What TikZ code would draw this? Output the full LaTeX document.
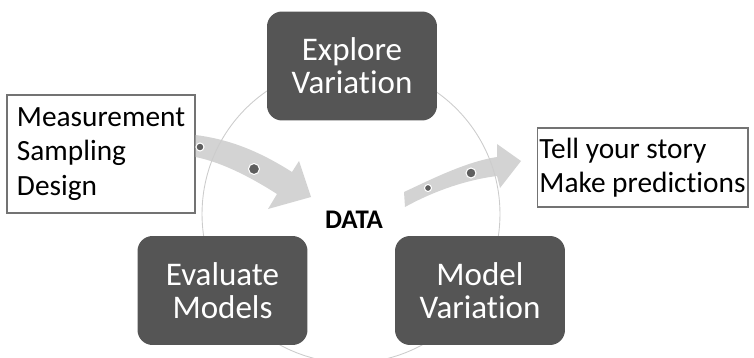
\documentclass[tikz,border=0pt]{standalone}
\usepackage{fontspec}
\setmainfont{Carlito}[Ligatures=NoCommon]
\usepackage{tikz}
\usetikzlibrary{positioning,calc}

\definecolor{boxgray}{HTML}{555555}
\definecolor{arrowgray}{HTML}{D3D3D3}
\definecolor{dotgray}{HTML}{5E5E5E}

\begin{document}
\begin{tikzpicture}[x=0.02cm,y=-0.02cm,
		stage/.style={rounded corners=0.3cm, fill=boxgray, text=white,
			minimum width=3.4cm, minimum height=2.18cm, align=center,
			font=\fontsize{18.8}{18.8}\selectfont},
		note/.style={draw=black!55, line width=0.6pt, align=left,
			font=\fontsize{16.7}{19.6}\selectfont},
		flow/.style={fill=arrowgray},
		bead/.style={fill=dotgray, draw=white, line width=0.6pt},
	]
		\useasboundingbox (0,0) rectangle (754,358);

		% side notes
		\node[note, minimum width=3.76cm, minimum height=2.36cm] (inputs) at (101,154)
			{Measurement\\Sampling\\Design};
		\node[note, inner sep=1pt, minimum width=4.22cm, minimum height=1.58cm] (outputs) at (642.5,167.5)
			{Tell your story\\Make predictions};

		% curved arrows in and out
		\fill[flow] (inputs.east |- 0,135) .. controls (235,140) and (265,155) .. (292,172)
			-- (299,161) -- (311,197) -- (268,209) -- (277,194)
			.. controls (255,180) and (225,163) .. (inputs.east |- 0,157) -- cycle;
		\fill[flow] (404,192) .. controls (430,180) and (465,162) .. (497,157)
			-- (497,144) -- (521,161) -- (500,188) -- (497,176)
			.. controls (465,180) and (432,192) .. (405,207) -- cycle;
		\path[bead] (200,147) circle (0.08cm) (254,169) circle (0.11cm)
			(428,188) circle (0.07cm) (471,173) circle (0.1cm);

		% cycle
		\node (data) at (354,220) {\fontsize{15.3}{15.3}\selectfont\bfseries DATA};
		\draw[black!20, line width=0.5pt] (351,214) circle (2.98cm);

		\node[stage] (explore) at (352,66) {Explore\\Variation};
		\node[stage] (evaluate) at (222.5,290.5) {Evaluate\\Models};
		\node[stage] (model) at (480,290.5) {Model\\Variation};
	\end{tikzpicture}
\end{document}
